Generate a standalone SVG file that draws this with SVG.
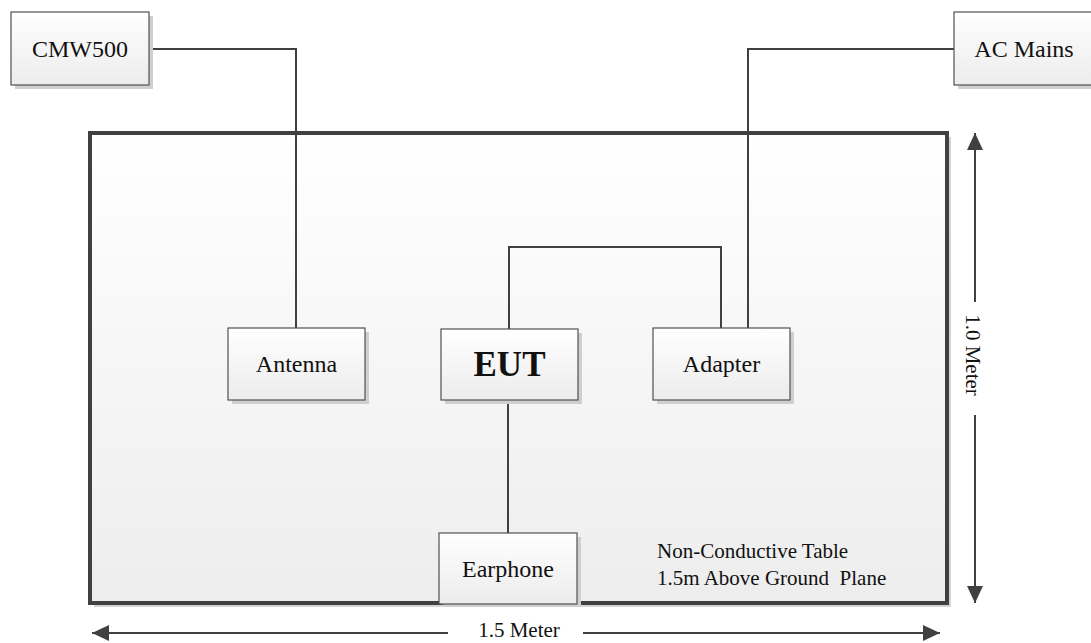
<svg xmlns="http://www.w3.org/2000/svg" width="1091" height="643" viewBox="0 0 1091 643">
<style>
.box{fill:url(#bg);stroke:#505050;stroke-width:1.2}
.sh{fill:#cfcfcf}
.lbl{font-family:"Liberation Serif","Times New Roman",serif;font-size:24px;fill:#111;text-anchor:middle}
.note{font-family:"Liberation Serif","Times New Roman",serif;font-size:21px;fill:#111}
.wire{fill:none;stroke:#404040;stroke-width:2}
.dim{fill:none;stroke:#404040;stroke-width:2}
</style>
<defs>
<linearGradient id="bg" x1="0" y1="0" x2="0" y2="1">
<stop offset="0" stop-color="#ffffff"/>
<stop offset="1" stop-color="#ececec"/>
</linearGradient>
<linearGradient id="tg" x1="0" y1="0" x2="0" y2="1">
<stop offset="0" stop-color="#ffffff"/>
<stop offset="1" stop-color="#ededed"/>
</linearGradient>
<marker id="ah" viewBox="0 0 10 10" refX="10" refY="5" markerWidth="9" markerHeight="9" markerUnits="userSpaceOnUse" orient="auto-start-reverse">
<path d="M0,0 L10,5 L0,10 z" fill="#404040"/>
</marker>
<marker id="ah2" viewBox="0 0 17 16" refX="17" refY="8" markerWidth="17" markerHeight="16" markerUnits="userSpaceOnUse" orient="auto-start-reverse">
<path d="M0,0 L17,8 L0,16 z" fill="#404040"/>
</marker>
</defs>

<g id="table">
<rect x="94" y="137" width="857" height="470" fill="#d4d4d4"/>
<rect x="90" y="133" width="857" height="470" fill="url(#tg)" stroke="#404040" stroke-width="4"/>
<text class="note" x="657" y="558">Non-Conductive Table</text>
<text class="note" x="657" y="585" xml:space="preserve">1.5m Above Ground  Plane</text>
</g>

<g id="connectors">
<path class="wire" d="M149,49 H296 V328"/>
<path class="wire" d="M954,49 H748 V328"/>
<path class="wire" d="M509,329 V247 H721 V328"/>
<path class="wire" d="M508,400 V533"/>
</g>

<g id="dimensions">
<path class="dim" d="M975,302 V133" marker-end="url(#ah2)"/>
<path class="dim" d="M975,415 V603" marker-end="url(#ah2)"/>
<text class="note" text-anchor="middle" transform="translate(966,355) rotate(90)">1.0 Meter</text>
<path class="dim" d="M448,633 H92" marker-end="url(#ah2)"/>
<path class="dim" d="M583,633 H940" marker-end="url(#ah2)"/>
<text class="note" text-anchor="middle" x="519" y="637">1.5 Meter</text>
</g>

<g id="cmw500">
<rect class="sh" x="15" y="16" width="138" height="73"/>
<rect class="box" x="11" y="12" width="138" height="73"/>
<text class="lbl" x="80" y="57">CMW500</text>
</g>

<g id="acmains">
<rect class="sh" x="958" y="16" width="138" height="73"/>
<rect class="box" x="954" y="12" width="138" height="73"/>
<text class="lbl" x="1024" y="57">AC Mains</text>
</g>

<g id="antenna">
<rect class="sh" x="232" y="332" width="137" height="72"/>
<rect class="box" x="228" y="328" width="137" height="72"/>
<text class="lbl" x="296.5" y="372">Antenna</text>
</g>

<g id="eut">
<rect class="sh" x="445" y="333" width="137" height="71"/>
<rect class="box" x="441" y="329" width="137" height="71"/>
<text class="lbl" x="509.5" y="376" style="font-size:35px;font-weight:bold">EUT</text>
</g>

<g id="adapter">
<rect class="sh" x="657" y="332" width="137" height="72"/>
<rect class="box" x="653" y="328" width="137" height="72"/>
<text class="lbl" x="721.5" y="372">Adapter</text>
</g>

<g id="earphone">
<rect class="sh" x="443" y="537" width="138" height="70"/>
<rect class="box" x="439" y="533" width="138" height="71"/>
<text class="lbl" x="508" y="577">Earphone</text>
</g>
</svg>
